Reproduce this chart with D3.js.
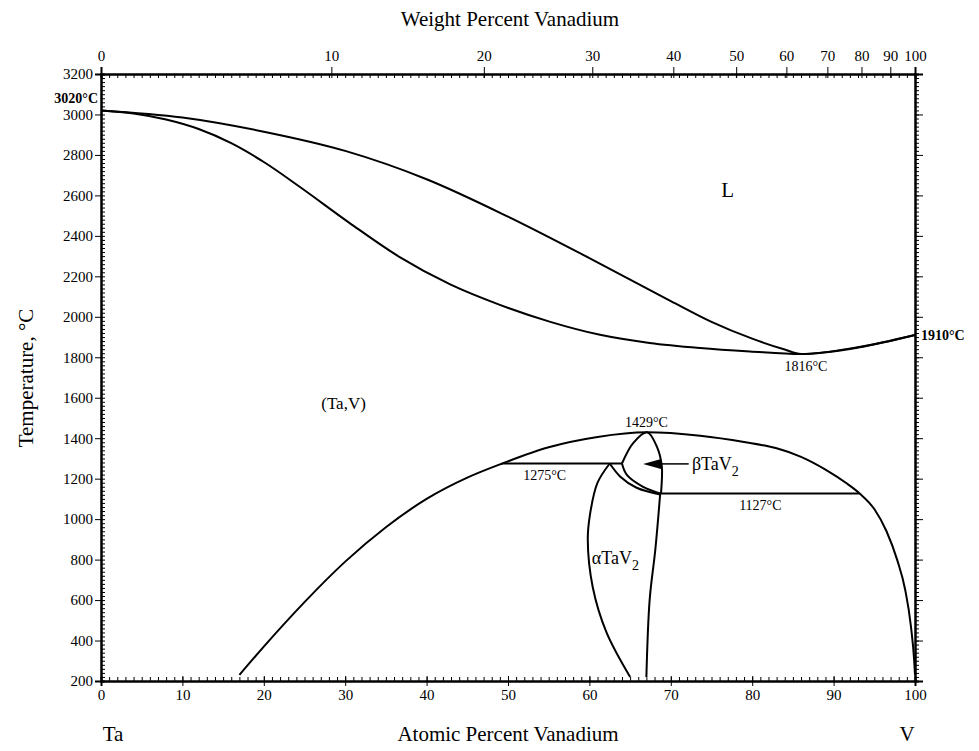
<!DOCTYPE html>
<html>
<head>
<meta charset="utf-8">
<script src="https://cdn.jsdelivr.net/npm/d3@7"></script>
<style>
  body { margin: 0; background: #fff; }
  svg text { font-family: "Liberation Serif", "Times New Roman", serif; fill: #000; }
  .axis path, .axis line { stroke: #000; }
  .axis path { stroke-width: 2; }
  .axis text { font-size: 15px; }
  .curve { fill: none; stroke: #000; stroke-width: 2; }
</style>
</head>
<body>
<div id="chart"></div>
<script>
const WIDTH = 979;
const HEIGHT = 751;
const PLOT = { LEFT: 101, RIGHT: 915, TOP: 74, BOTTOM: 681 };

// at.% V, temperature °C
const liquidus = [[0, 3020], [10, 2985], [20, 2915], [30, 2820], [40, 2680], [50, 2495], [60, 2290], [70, 2078], [75, 1975], [80, 1892], [84, 1838], [86, 1816], [93, 1850], [100, 1910]];
const solidus = [[0, 3020], [4, 3005], [8, 2975], [12, 2928], [16, 2858], [20, 2765], [24.4, 2643], [30.6, 2462], [36.7, 2295], [42.9, 2160], [49, 2059], [55.2, 1975], [61.3, 1911], [67.4, 1871], [73.6, 1846], [79.7, 1829], [86, 1816], [93, 1848], [100, 1910]];
const solvusDome = [[17, 230], [20, 370], [25, 590], [30, 790], [35, 960], [40, 1100], [45, 1205], [49.3, 1275], [55, 1355], [61, 1406], [67, 1429], [73.6, 1412], [79, 1381], [83, 1350], [86, 1308], [89, 1245], [91.5, 1180], [93.2, 1127], [95, 1050], [96.5, 940], [97.8, 800], [98.8, 650], [99.5, 470], [99.9, 300], [100, 230]];
const alphaLeft = [[62.5, 1275], [61, 1180], [60.1, 1030], [59.8, 900], [60.4, 666], [62.1, 440], [65, 220]];
const alphaRight = [[68.7, 1127], [68.1, 850], [67.4, 600], [67, 220]];
const alphaTop = [[62.5, 1275], [63.8, 1210], [65.8, 1155], [68.7, 1122]];
const betaLower = [[64, 1275], [64.6, 1219], [66.6, 1160], [68.7, 1127]];
const betaDome = [[64, 1275], [65.4, 1377], [67.1, 1429], [68.3, 1357], [68.9, 1259], [68.8, 1127]];
const tieLines = [[49.3, 64, 1275], [68.7, 93.2, 1127]];

const tempTicks = d3.range(200, 3201, 200);
const tempMinor = d3.range(200, 3201, 20);
const atTicks = d3.range(0, 101, 10);
const atMinor = d3.range(0, 101, 1);
const wtTicks = [0, 10, 20, 30, 40, 50, 60, 70, 80, 90, 100];

const labels = [
  { text: "L", x: 77, t: 2590, size: 21 },
  { text: "(Ta,V)", x: 29.8, t: 1545, size: 17 },
  { text: "1816°C", x: 86.6, t: 1730, size: 14 },
  { text: "1429°C", x: 67, t: 1455, size: 14 },
  { text: "1275°C", x: 54.5, t: 1195, size: 14 },
  { text: "1127°C", x: 81, t: 1045, size: 14 }
];

// weight % V -> atomic % V
const M_TA = 180.948, M_V = 50.942;
function wtToAt(w) {
  if (w >= 100) return 100;
  let nv = w / M_V, nt = (100 - w) / M_TA;
  return 100 * nv / (nv + nt);
}

let x = d3.scaleLinear().domain([0, 100]).range([PLOT.LEFT, PLOT.RIGHT]);
let y = d3.scaleLinear().domain([200, 3200]).range([PLOT.BOTTOM, PLOT.TOP]);

let svg = d3.select("#chart").append("svg")
  .attr("width", WIDTH)
  .attr("height", HEIGHT);

// axes
svg.append("g").attr("class", "axis")
  .attr("transform", `translate(0,${PLOT.BOTTOM})`)
  .call(d3.axisBottom(x).tickValues(atMinor).tickSize(-4).tickFormat(""));
svg.append("g").attr("class", "axis")
  .attr("transform", `translate(0,${PLOT.BOTTOM})`)
  .call(d3.axisBottom(x).tickValues(atTicks).tickSize(5).tickPadding(3).tickFormat(d3.format("d")))
  .call(g => g.selectAll("line").attr("y1", -5));

svg.append("g").attr("class", "axis")
  .attr("transform", `translate(${PLOT.LEFT},0)`)
  .call(d3.axisLeft(y).tickValues(tempMinor).tickSize(-4).tickFormat(""));
svg.append("g").attr("class", "axis")
  .attr("transform", `translate(${PLOT.LEFT},0)`)
  .call(d3.axisLeft(y).tickValues(tempTicks).tickSize(6).tickPadding(2).tickFormat(d3.format("d")));

svg.append("g").attr("class", "axis")
  .attr("transform", `translate(0,${PLOT.TOP})`)
  .call(d3.axisTop(x).tickValues(atMinor).tickSize(-4).tickFormat(""));
svg.append("g").attr("class", "axis")
  .attr("transform", `translate(0,${PLOT.TOP})`)
  .call(d3.axisTop(x).tickValues(wtTicks.map(wtToAt)).tickSize(7).tickPadding(6)
    .tickFormat((d, i) => wtTicks[i]))
  .call(g => g.selectAll("line").attr("y1", 4));

svg.append("g").attr("class", "axis")
  .attr("transform", `translate(${PLOT.RIGHT},0)`)
  .call(d3.axisRight(y).tickValues(tempMinor).tickSize(4).tickFormat(""));
svg.append("g").attr("class", "axis")
  .attr("transform", `translate(${PLOT.RIGHT},0)`)
  .call(d3.axisRight(y).tickValues(tempTicks).tickSize(8).tickFormat(""));

// curves
let smoothLine = d3.line()
  .x(d => x(d[0]))
  .y(d => y(d[1]))
  .curve(d3.curveMonotoneX);
let line = d3.line()
  .x(d => x(d[0]))
  .y(d => y(d[1]))
  .curve(d3.curveCatmullRom.alpha(0.5));

[liquidus, solidus, solvusDome].forEach(c => {
  svg.append("path").attr("class", "curve").attr("d", smoothLine(c));
});
[alphaLeft, alphaRight, alphaTop, betaLower, betaDome].forEach(c => {
  svg.append("path").attr("class", "curve").attr("d", line(c));
});

svg.append("g").selectAll("line")
  .data(tieLines)
  .enter()
  .append("line")
  .attr("x1", d => x(d[0]))
  .attr("x2", d => x(d[1]))
  .attr("y1", d => y(d[2]))
  .attr("y2", d => y(d[2]))
  .attr("stroke", "#000")
  .attr("stroke-width", 2);

// arrow to the beta TaV2 field
let arrowT = 1273;
svg.append("line")
  .attr("x1", x(68.6)).attr("x2", x(72.2))
  .attr("y1", y(arrowT)).attr("y2", y(arrowT))
  .attr("stroke", "#000").attr("stroke-width", 1.5);
svg.append("path")
  .attr("d", `M${x(66.6)},${y(arrowT)} L${x(68.8)},${y(arrowT) - 5} L${x(68.8)},${y(arrowT) + 5} Z`)
  .attr("fill", "#000");

// annotations
svg.append("g").selectAll("text")
  .data(labels)
  .enter()
  .append("text")
  .attr("x", d => x(d.x))
  .attr("y", d => y(d.t))
  .attr("text-anchor", "middle")
  .style("font-size", d => d.size + "px")
  .text(d => d.text);

let beta = svg.append("text")
  .attr("x", x(72.6)).attr("y", y(arrowT) + 6)
  .style("font-size", "18px");
beta.append("tspan").text("βTaV");
beta.append("tspan").attr("dy", 6).style("font-size", "14px").text("2");

let alpha = svg.append("text")
  .attr("x", x(60.3)).attr("y", y(780))
  .style("font-size", "18px");
alpha.append("tspan").text("αTaV");
alpha.append("tspan").attr("dy", 6).style("font-size", "14px").text("2");

svg.append("text")
  .attr("x", PLOT.LEFT - 3).attr("y", y(3020) - 7)
  .attr("text-anchor", "end")
  .style("font-size", "14px").style("font-weight", "bold")
  .text("3020°C");
svg.append("text")
  .attr("x", PLOT.RIGHT + 6).attr("y", y(1910) + 5)
  .style("font-size", "14px").style("font-weight", "bold")
  .text("1910°C");

// axis titles
svg.append("text")
  .attr("x", 510).attr("y", 26)
  .attr("text-anchor", "middle")
  .style("font-size", "21px")
  .text("Weight Percent Vanadium");
svg.append("text")
  .attr("x", 508).attr("y", 741)
  .attr("text-anchor", "middle")
  .style("font-size", "21px")
  .text("Atomic Percent Vanadium");
svg.append("text")
  .attr("x", 113).attr("y", 741)
  .attr("text-anchor", "middle")
  .style("font-size", "21px")
  .text("Ta");
svg.append("text")
  .attr("x", 907).attr("y", 741)
  .attr("text-anchor", "middle")
  .style("font-size", "21px")
  .text("V");
svg.append("text")
  .attr("transform", "translate(33,378) rotate(-90)")
  .attr("text-anchor", "middle")
  .style("font-size", "21px")
  .text("Temperature, °C");
</script>
</body>
</html>
